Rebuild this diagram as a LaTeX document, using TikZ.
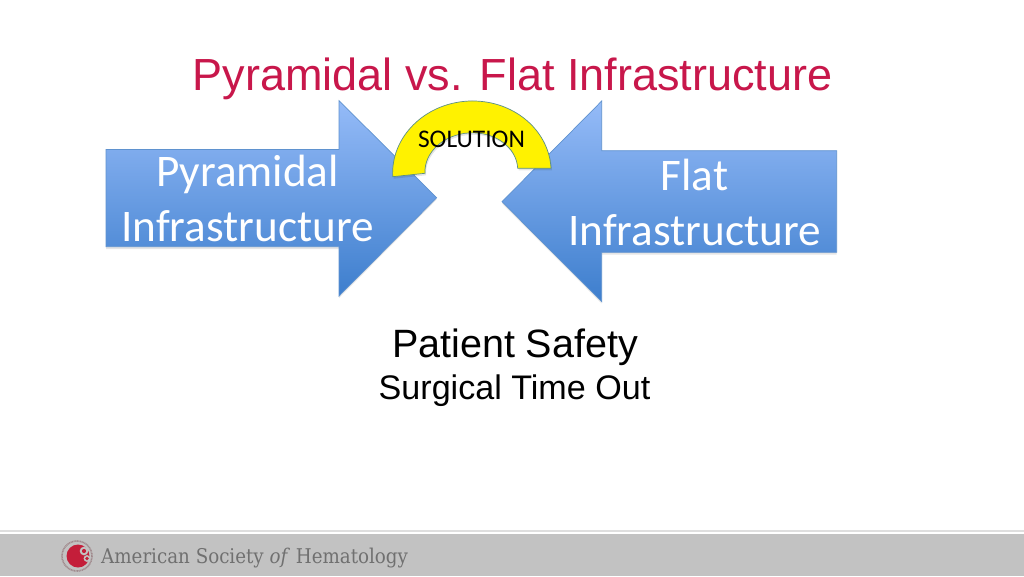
\documentclass[tikz,border=0pt]{standalone}
\usepackage{fontspec}
\setmainfont{Liberation Sans}
\newfontfamily\bodyfont{Carlito}
\newfontfamily\logofont{DejaVu Serif Condensed}
\definecolor{titlered}{HTML}{C8174B}
\definecolor{arrowtop}{HTML}{95BBF8}
\definecolor{arrowbot}{HTML}{3D7ECD}
\definecolor{arrowline}{HTML}{5F92CF}
\definecolor{arcline}{HTML}{5C8F86}
\definecolor{bandgrey}{HTML}{C2C2C2}
\definecolor{logogrey}{HTML}{707070}
\definecolor{logored}{HTML}{C41E3A}
\tikzset{
  arrowshape/.style={top color=arrowtop,bottom color=arrowbot,draw=arrowline,line width=0.7pt,line join=miter},
  softshadow/.style={fill=black,opacity=0.10,draw=none},
  arrowtext/.style={text=white,font=\bodyfont\fontsize{45.2}{55}\selectfont,align=center,inner sep=0pt},
  arcshape/.style={fill=yellow,draw=arcline,line width=0.7pt,line join=miter},
  bodytext/.style={text=black,inner sep=0pt},
}
\begin{document}
\begin{tikzpicture}[x=1pt,y=-1pt]
\useasboundingbox (0,0) rectangle (1024,576);
\fill[white] (0,0) rectangle (1024,576);
% footer
\fill[bandgrey] (0,533.5) rectangle (1024,576);
\fill[black!13] (0,530) rectangle (1024,531.5);
% logo
\fill[logored] (78,556) circle (11.5);
\fill[bandgrey] (84,551) circle (4.3);
\fill[logored] (84,551) circle (2.1);
\fill[bandgrey] (87,558.5) circle (3.4);
\fill[logored] (87,558.5) circle (1.8);
\draw[logogrey!75!logored,line width=1.6pt,dash pattern=on 1pt off 0.6pt,opacity=0.55] (77,556) circle (15);
% left arrow
\path[softshadow] (106,151.5) -- (339,151.5) -- (339,102.5) -- (436.7,199.5) -- (339,298) -- (339,249) -- (106,249) -- cycle;
\path[arrowshape] (106,149.5) -- (339,149.5) -- (339,100.7) -- (436.7,197.7) -- (339,296) -- (339,246.7) -- (106,246.7) -- cycle;
% right arrow
\path[softshadow] (836.7,152.5) -- (601.7,152.5) -- (601.7,103) -- (502,203.5) -- (601.7,303.5) -- (601.7,254.5) -- (836.7,254.5) -- cycle;
\path[arrowshape] (836.7,150.7) -- (601.7,150.7) -- (601.7,101) -- (502,201.7) -- (601.7,301.7) -- (601.7,252.3) -- (836.7,252.3) -- cycle;
% block arc
\path[softshadow,shift={(1,2)}] (392.7,176.7) .. controls (390.6,137.3) and (424.4,103.4) .. (468,101.1) .. controls (511.6,98.8) and (548.9,128.9) .. (551,168.3) -- (517.7,168.3) .. controls (516.6,147.3) and (495,131.5) .. (469.4,132.9) .. controls (443.8,134.3) and (423.9,152.3) .. (425,173.3) -- cycle;
\path[arcshape] (392.7,176.7) .. controls (390.6,137.3) and (424.4,103.4) .. (468,101.1) .. controls (511.6,98.8) and (548.9,128.9) .. (551,168.3) -- (517.7,168.3) .. controls (516.6,147.3) and (495,131.5) .. (469.4,132.9) .. controls (443.8,134.3) and (423.9,152.3) .. (425,173.3) -- cycle;
% texts
\node[text=titlered,font=\fontsize{45}{52}\selectfont,inner sep=0pt,anchor=base] (title) at (512.5,90) {Pyramidal vs. Flat Infrastructure};
\node[arrowtext,anchor=base] (leftone) at (247.5,186) {Pyramidal};
\node[arrowtext,anchor=base] (lefttwo) at (247.5,241) {Infrastructure};
\node[arrowtext,anchor=base] (rightone) at (694.5,190) {Flat};
\node[arrowtext,anchor=base] (righttwo) at (694.5,245) {Infrastructure};
\node[bodytext,font=\bodyfont\fontsize{25.4}{28}\selectfont,anchor=base] (solution) at (471.5,147.5) {SOLUTION};
\node[bodytext,font=\fontsize{39.5}{44}\selectfont,anchor=base] (safety) at (515,357) {Patient Safety};
\node[bodytext,font=\fontsize{34.1}{38}\selectfont,anchor=base] (timeout) at (514.5,399) {Surgical Time Out};
\node[text=logogrey,font=\logofont\fontsize{20.3}{24}\selectfont,inner sep=0pt,anchor=base west] (society) at (101,563) {American Society \textit{of} Hematology};
\end{tikzpicture}
\end{document}
